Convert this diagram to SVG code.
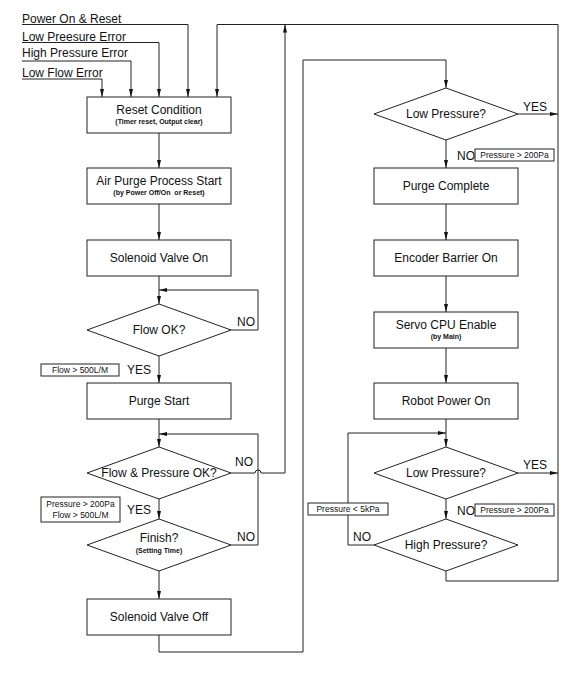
<svg xmlns="http://www.w3.org/2000/svg" width="576" height="674" viewBox="0 0 576 674">
<defs>
<marker id="ah" viewBox="0 0 8 4" refX="8" refY="2" markerWidth="8" markerHeight="4" orient="auto" markerUnits="userSpaceOnUse"><path d="M0,0 L8,2 L0,4 z" fill="#111"/></marker>
<style>
.b{fill:#fff;stroke:#222;stroke-width:1}
.c{fill:none;stroke:#222;stroke-width:1}
.a{marker-end:url(#ah)}
text{font-family:"Liberation Sans",Arial,sans-serif;fill:#111}
.t{font-size:12px;text-anchor:middle}
.s{font-size:7px;font-weight:bold;text-anchor:middle;white-space:pre}
.l{font-size:12px}
.n{font-size:8.5px;text-anchor:middle}
</style>
</defs>
<rect width="576" height="674" fill="#fff"/>
<g id="connectors">
<path class="c a" d="M22,24.5 H188 V97"/>
<path class="c a" d="M22,42.5 H159 V97"/>
<path class="c a" d="M22,61 H131 V97"/>
<path class="c a" d="M22,79 H102 V97"/>
<path class="c a" d="M446,571 V581 H558 V24.5 H217 V97"/>
<path class="c a" d="M518,114 H558"/>
<path class="c a" d="M518,473 H558"/>
<path class="c a" d="M159,133 V168"/>
<path class="c a" d="M159,204 V240"/>
<path class="c a" d="M159,276 V304"/>
<path class="c a" d="M231,330 H258 V290 H159"/>
<path class="c a" d="M159,356 V383"/>
<path class="c a" d="M159,419 V447"/>
<path class="c a" d="M231,545 H258 V434 H159"/>
<path class="c a" d="M231,473 H255 A3,3 0 0 1 261,473 H285 V24.5"/>
<path class="c a" d="M159,499 V519"/>
<path class="c a" d="M159,571 V599"/>
<path class="c a" d="M159,635 V652 H303 V60 H446 V88"/>
<path class="c a" d="M446,140 V168"/>
<path class="c a" d="M446,204 V240"/>
<path class="c a" d="M446,276 V312"/>
<path class="c a" d="M446,348 V383"/>
<path class="c a" d="M446,419 V447"/>
<path class="c a" d="M446,499 V519"/>
<path class="c a" d="M374,545 H348 V433 H446"/>
</g>
<g id="inputs">
<text class="l" x="22" y="22.5">Power On &amp; Reset</text>
<text class="l" x="22" y="40.5">Low Preesure Error</text>
<text class="l" x="22" y="57">High Pressure Error</text>
<text class="l" x="22" y="77">Low Flow Error</text>
</g>
<g id="reset-condition">
<rect class="b" x="87" y="97" width="144" height="36"/>
<text class="t" x="159" y="114">Reset Condition</text>
<text class="s" x="159" y="124">(Timer reset, Output clear)</text>
</g>
<g id="air-purge-start">
<rect class="b" x="87" y="168" width="144" height="36"/>
<text class="t" x="159" y="185">Air Purge Process Start</text>
<text class="s" x="159" y="195">(by Power Off/On  or Reset)</text>
</g>
<g id="solenoid-on">
<rect class="b" x="87" y="240" width="144" height="36"/>
<text class="t" x="159" y="262">Solenoid Valve On</text>
</g>
<g id="flow-ok">
<polygon class="b" points="159,304 231,330 159,356 87,330"/>
<text class="t" x="159" y="334">Flow OK?</text>
<text class="l" x="237" y="326">NO</text>
<rect class="b" x="41" y="364" width="78" height="12"/>
<text class="n" x="80" y="373">Flow &gt; 500L/M</text>
<text class="l" x="127" y="374">YES</text>
</g>
<g id="purge-start">
<rect class="b" x="87" y="383" width="144" height="36"/>
<text class="t" x="159" y="405">Purge Start</text>
</g>
<g id="flow-pressure-ok">
<polygon class="b" points="159,447 231,473 159,499 87,473"/>
<text class="t" x="159" y="477">Flow &amp; Pressure OK?</text>
<text class="l" x="235" y="466">NO</text>
<rect class="b" x="41" y="497" width="79" height="25"/>
<text class="n" x="80.5" y="507">Pressure &gt; 200Pa</text>
<text class="n" x="80.5" y="518">Flow &gt; 500L/M</text>
<text class="l" x="127" y="514">YES</text>
</g>
<g id="finish">
<polygon class="b" points="159,519 231,545 159,571 87,545"/>
<text class="t" x="159" y="542">Finish?</text>
<text class="s" x="159" y="553">(Setting Time)</text>
<text class="l" x="237" y="541">NO</text>
</g>
<g id="solenoid-off">
<rect class="b" x="87" y="599" width="144" height="36"/>
<text class="t" x="159" y="621">Solenoid Valve Off</text>
</g>
<g id="low-pressure-1">
<polygon class="b" points="446,88 518,114 446,140 374,114"/>
<text class="t" x="446" y="118">Low Pressure?</text>
<text class="l" x="523" y="111">YES</text>
<text class="l" x="457" y="160">NO</text>
<rect class="b" x="475" y="149" width="79" height="12"/>
<text class="n" x="514.5" y="158">Pressure &gt; 200Pa</text>
</g>
<g id="purge-complete">
<rect class="b" x="374" y="168" width="144" height="36"/>
<text class="t" x="446" y="190">Purge Complete</text>
</g>
<g id="encoder-barrier">
<rect class="b" x="374" y="240" width="144" height="36"/>
<text class="t" x="446" y="262">Encoder Barrier On</text>
</g>
<g id="servo-cpu">
<rect class="b" x="374" y="312" width="144" height="36"/>
<text class="t" x="446" y="329">Servo CPU Enable</text>
<text class="s" x="446" y="339">(by Main)</text>
</g>
<g id="robot-power">
<rect class="b" x="374" y="383" width="144" height="36"/>
<text class="t" x="446" y="405">Robot Power On</text>
</g>
<g id="low-pressure-2">
<polygon class="b" points="446,447 518,473 446,499 374,473"/>
<text class="t" x="446" y="477">Low Pressure?</text>
<text class="l" x="523" y="469">YES</text>
<text class="l" x="457" y="515">NO</text>
<rect class="b" x="475" y="504" width="79" height="12"/>
<text class="n" x="514.5" y="513">Pressure &gt; 200Pa</text>
</g>
<g id="high-pressure">
<polygon class="b" points="446,519 518,545 446,571 374,545"/>
<text class="t" x="446" y="549">High Pressure?</text>
<rect class="b" x="308" y="503" width="80" height="12"/>
<text class="n" x="348" y="512">Pressure &lt; 5kPa</text>
<text class="l" x="353" y="541">NO</text>
</g>
</svg>
